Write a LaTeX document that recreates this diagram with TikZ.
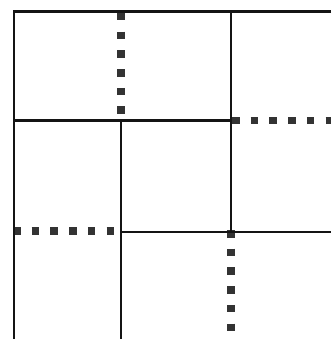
\documentclass[tikz,border=0pt]{standalone}
\usepackage{tikz}
\definecolor{wallgray}{HTML}{141414}
\definecolor{dotgray}{HTML}{333333}

\begin{document}
\begin{tikzpicture}[
  x=1pt,
  y=-1pt,
  wall/.style={draw=wallgray, line width=2.5pt},
  sqdots/.style={draw=dotgray, line width=7.5pt, dash pattern=on 7.5pt off 11.2pt}
]
\useasboundingbox (0,0) rectangle (331,339);

% frame corners and wall ends
\coordinate (topleft) at (14,11.5);
\coordinate (topright) at (331,11.5);
\coordinate (bottomleft) at (14,339);
\coordinate (midleft) at (14,120.5);
\coordinate (midcross) at (231,120.5);
\coordinate (innertop) at (121,120.5);
\coordinate (innerbottom) at (121,339);
\coordinate (uppertop) at (231,11.5);
\coordinate (lowercross) at (231,232);
\coordinate (lowerleft) at (121,232);
\coordinate (lowerright) at (331,232);

% square dotted partitions
\coordinate (dotsatop) at (121,13);
\coordinate (dotsaend) at (121,121);
\coordinate (dotsbstart) at (232,120.5);
\coordinate (dotsbend) at (331,120.5);
\coordinate (dotscstart) at (13,231);
\coordinate (dotscend) at (121,231);
\coordinate (dotsdstart) at (231,230);
\coordinate (dotsdend) at (231,339);

\draw[sqdots] (dotsatop) -- (dotsaend);
\draw[sqdots] (dotsbstart) -- (dotsbend);
\draw[sqdots] (dotscstart) -- (dotscend);
\draw[sqdots] (dotsdstart) -- (dotsdend);

% solid walls
\draw[wall] (topright) -- (topleft) -- (bottomleft);
\draw[wall] (midleft) -- (midcross);
\draw[wall] (innertop) -- (innerbottom);
\draw[wall] (uppertop) -- (lowercross);
\draw[wall] (lowerleft) -- (lowerright);

\end{tikzpicture}
\end{document}
